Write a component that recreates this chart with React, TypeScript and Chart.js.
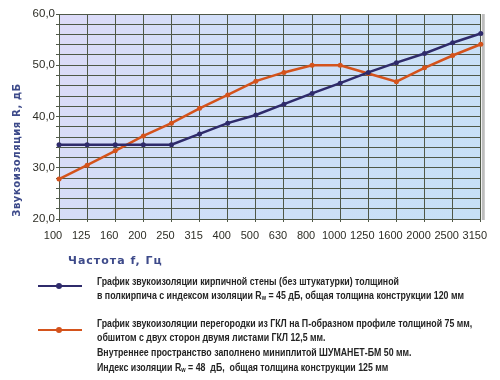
import React, { useEffect, useRef } from "react";
import { Chart, registerables } from "chart.js";

Chart.register(...registerables);

const frequencies = ["100", "125", "160", "200", "250", "315", "400", "500", "630", "800", "1000", "1250", "1600", "2000", "2500", "3150"];
const brickWall = [34.5, 34.5, 34.5, 34.5, 34.5, 36.6, 38.7, 40.3, 42.4, 44.5, 46.5, 48.6, 50.5, 52.3, 54.4, 56.2];
const gklPartition = [27.8, 30.5, 33.3, 36.2, 38.7, 41.6, 44.2, 46.9, 48.6, 50.0, 50.0, 48.4, 46.8, 49.5, 51.9, 54.1];
const yMin = 20;
const yMax = 60;
const yStep = 2;
const yLabelEvery = 10;
const yTitle = "Звукоизоляция R, дБ";
const xTitle = "Частота f, Гц";

const NAVY = "#2f2b6b";
const ORANGE = "#d4531c";
const TITLE_BLUE = "#3d4a8a";
const GRID = "#4f5848";
const SANS = '"Liberation Sans", Arial, sans-serif';

const bgPlugin = {
  id: "bgPlugin",
  beforeDraw(chart: any) {
    const { ctx, chartArea } = chart;
    const { left, top, right, bottom } = chartArea;
    ctx.save();
    const g = ctx.createLinearGradient(left, top, right, bottom);
    g.addColorStop(0, "#dddaf8");
    g.addColorStop(0.3, "#d2def8");
    g.addColorStop(1, "#c6e0f6");
    ctx.fillStyle = g;
    ctx.fillRect(left, top, right - left, bottom - top);
    ctx.fillStyle = "#bdbdbd";
    ctx.fillRect(right + 1, top, 3, bottom - top + 1);
    ctx.restore();
  },
  afterDraw(chart: any) {
    const { ctx } = chart;
    ctx.save();
    ctx.fillStyle = TITLE_BLUE;
    ctx.font = 'bold 10px "DejaVu Sans", sans-serif';
    (ctx as any).letterSpacing = "0.6px";
    ctx.textAlign = "center";
    ctx.textBaseline = "middle";
    ctx.translate(17, 150);
    ctx.rotate(-Math.PI / 2);
    ctx.fillText(yTitle, 0, 0);
    ctx.restore();
  },
};

const legendLines1 = [
  "График звукоизоляции кирпичной стены (без штукатурки) толщиной",
];
const legendLines2 = [
  "График звукоизоляции перегородки из ГКЛ на П-образном профиле толщиной 75 мм,",
  "обшитом с двух сторон двумя листами ГКЛ 12,5 мм.",
  "Внутреннее пространство заполнено миниплитой ШУМАНЕТ-БМ 50 мм.",
];

export default function App() {
  const ref = useRef<HTMLCanvasElement | null>(null);
  useEffect(() => {
    if (!ref.current) return;
    const chart = new Chart(ref.current, {
      type: "line",
      data: {
        labels: frequencies,
        datasets: [
          {
            data: brickWall,
            borderColor: NAVY,
            backgroundColor: NAVY,
            borderWidth: 2.5,
            pointRadius: 2.5,
            pointBorderWidth: 0,
            tension: 0,
          },
          {
            data: gklPartition,
            borderColor: ORANGE,
            backgroundColor: ORANGE,
            borderWidth: 2.5,
            pointRadius: 2.5,
            pointBorderWidth: 0,
            tension: 0,
          },
        ],
      },
      options: {
        animation: false,
        responsive: false,
        maintainAspectRatio: false,
        layout: { padding: { left: 0, top: 14, right: 16, bottom: 131 } },
        plugins: { legend: { display: false }, tooltip: { enabled: false }, title: { display: false } },
        scales: {
          x: {
            offset: false,
            afterFit: (s: any) => { s.height = 30; },
            grid: { color: GRID, lineWidth: 1, tickLength: 3, drawTicks: true },
            border: { color: GRID, width: 1 },
            ticks: {
              color: "#2e2e26",
              font: { family: SANS, size: 11 },
              padding: 7,
              labelOffset: -6,
              maxRotation: 0,
              autoSkip: false,
            },
          },
          y: {
            min: yMin,
            max: yMax,
            afterFit: (s: any) => { s.width = 59; },
            grid: { color: GRID, lineWidth: 1, tickLength: 3, drawTicks: true },
            border: { color: GRID, width: 1 },
            ticks: {
              stepSize: yStep,
              autoSkip: false,
              color: "#2e2e26",
              font: { family: SANS, size: 11.5 },
              padding: 1,
              callback: (v: any) => (Number(v) % yLabelEvery === 0 ? Number(v).toFixed(1).replace(".", ",") : ""),
            },
          },
        },
      },
      plugins: [bgPlugin],
    });
    return () => chart.destroy();
  }, []);

  const legendText: React.CSSProperties = {
    position: "absolute",
    left: 97,
    font: `bold 11px ${SANS}`,
    color: "#242424",
    lineHeight: "14px",
    whiteSpace: "pre",
    transform: "scaleX(0.8)",
    transformOrigin: "0 0",
  };
  const Rw = (
    <span>
      R<span style={{ fontSize: 7, verticalAlign: "-1px" }}>w</span>
    </span>
  );
  const lineStyle = (color: string, y: number): React.CSSProperties => ({
    position: "absolute",
    left: 38,
    top: y - 1,
    width: 44,
    height: 2,
    background: color,
  });
  const dotStyle = (color: string, y: number): React.CSSProperties => ({
    position: "absolute",
    left: 56,
    top: y - 3,
    width: 6,
    height: 6,
    borderRadius: 3,
    background: color,
  });

  return (
    <div style={{ position: "absolute", left: 0, top: 0, width: 500, height: 380, background: "#ffffff", overflow: "hidden" }}>
      <canvas ref={ref} width={500} height={380} style={{ position: "absolute", left: 0, top: 0, width: 500, height: 380 }} />
      <div
        style={{
          position: "absolute",
          left: 68,
          top: 253,
          font: 'bold 11px "DejaVu Sans", sans-serif',
          letterSpacing: "1px",
          color: TITLE_BLUE,
          whiteSpace: "pre",
          lineHeight: "16px",
        }}
      >
        {xTitle}
      </div>
      <div style={lineStyle(NAVY, 286)} />
      <div style={dotStyle(NAVY, 286)} />
      <div style={lineStyle(ORANGE, 330)} />
      <div style={dotStyle(ORANGE, 330)} />
      <div style={{ ...legendText, top: 274 }}>{legendLines1[0]}</div>
      <div style={{ ...legendText, top: 288 }}>
        {"в полкирпича с индексом изоляции "}
        {Rw}
        {" = 45 дБ, общая толщина конструкции 120 мм"}
      </div>
      <div style={{ ...legendText, top: 316 }}>{legendLines2[0]}</div>
      <div style={{ ...legendText, top: 330 }}>{legendLines2[1]}</div>
      <div style={{ ...legendText, top: 345 }}>{legendLines2[2]}</div>
      <div style={{ ...legendText, top: 360 }}>
        {"Индекс изоляции "}
        {Rw}
        {" = 48  дБ,  общая толщина конструкции 125 мм"}
      </div>
    </div>
  );
}
